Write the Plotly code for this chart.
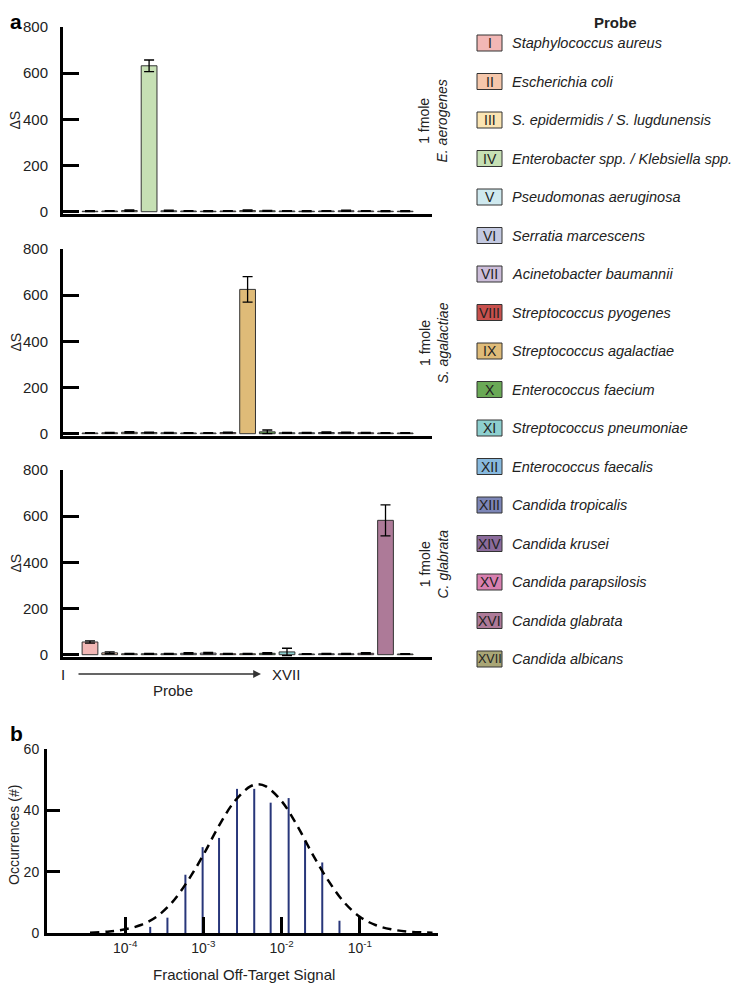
import plotly.graph_objects as go

W, H = 742, 984          # target picture size
OFF = 8                  # page body margin in the browser
FW, FH = W - OFF, H - OFF  # figure size so it fits the window

# ---------------- data ----------------
probes = ['I', 'II', 'III', 'IV', 'V', 'VI', 'VII', 'VIII', 'IX', 'X',
          'XI', 'XII', 'XIII', 'XIV', 'XV', 'XVI', 'XVII']
species = ['Staphylococcus aureus', 'Escherichia coli',
           'S. epidermidis / S. lugdunensis', 'Enterobacter spp. / Klebsiella spp.',
           'Pseudomonas aeruginosa', 'Serratia marcescens', 'Acinetobacter baumannii',
           'Streptococcus pyogenes', 'Streptococcus agalactiae', 'Enterococcus faecium',
           'Streptococcus pneumoniae', 'Enterococcus faecalis', 'Candida tropicalis',
           'Candida krusei', 'Candida parapsilosis', 'Candida glabrata', 'Candida albicans']
colors = ['#f2b7b5', '#f5c7ab', '#fbe5b3', '#c6e0b4', '#cfe9ef', '#c3c9e1', '#ccbdd9',
          '#c8504d', '#dfbb78', '#6aa956', '#8dcfcf', '#87b9de', '#7d86b7', '#8b6b9b',
          '#d880b0', '#ad7a98', '#a9a676']

ea_vals = [2, 3, 5, 632, 4, 3, 2, 3, 5, 4, 3, 2, 3, 4, 3, 2, 2]
ea_err = [2, 2, 3, 25, 3, 2, 2, 2, 3, 2, 2, 2, 2, 3, 2, 2, 2]
sa_vals = [3, 4, 6, 5, 4, 3, 3, 5, 625, 8, 4, 4, 5, 5, 4, 3, 3]
sa_err = [2, 2, 3, 2, 2, 2, 2, 2, 55, 8, 2, 2, 3, 2, 2, 2, 2]
cg_vals = [55, 8, 4, 4, 4, 6, 7, 4, 4, 6, 12, 3, 4, 4, 6, 582, 3]
cg_err = [5, 4, 2, 2, 2, 3, 3, 2, 2, 3, 16, 2, 2, 2, 3, 67, 1]
panel_targets = ['E. aerogenes', 'S. agalactiae', 'C. glabrata']
y_ticks_a = [0, 200, 400, 600, 800]

hist_exp = [-3.68, -3.46, -3.23, -3.01, -2.80, -2.57, -2.35, -2.14, -1.91, -1.70, -1.48, -1.26]
hist_counts = [2, 5, 19, 28, 31, 47, 47, 42.5, 44, 30, 23, 4]
fit_exp = [-4.45, -4.2, -4.0, -3.8, -3.6, -3.4, -3.2, -3.0, -2.8, -2.6, -2.4, -2.3,
           -2.2, -2.0, -1.8, -1.6, -1.4, -1.2, -1.0, -0.8, -0.6, -0.4, -0.2, -0.07]
fit_counts = [0.1, 0.5, 1.2, 2.6, 5.3, 10, 17, 25.5, 35, 43, 47.8, 48.5,
              47.8, 43, 35, 25.5, 17, 10, 5.3, 2.6, 1.2, 0.5, 0.2, 0.1]
y_ticks_b = [0, 20, 40, 60]
x_ticks_b_exp = [-5, -4, -3, -2, -1, 0]
x_ticks_b_text = ['', '10<sup>-4</sup>', '10<sup>-3</sup>', '10<sup>-2</sup>', '10<sup>-1</sup>', '']

# ---------------- layout helpers (page pixel -> paper) ----------------
def fx(p):
    return (p - OFF) / FW

def fy(p):
    return 1 - (p - OFF) / FH

FONT = 'Liberation Sans, Arial, sans-serif'
TXT = '#222222'

def ann(x, y, text, size, angle=0, xanchor='center', yanchor='middle', color=TXT):
    return dict(x=fx(x), y=fy(y), xref='paper', yref='paper', text=text, textangle=angle,
                xanchor=xanchor, yanchor=yanchor, showarrow=False,
                font=dict(family=FONT, size=size, color=color))

fig = go.Figure()
layout = {}
annotations = []
shapes = []

panels = [(ea_vals, ea_err, 27, 214), (sa_vals, sa_err, 249, 436), (cg_vals, cg_err, 470, 657)]
for i, (vals, errs, top, bot) in enumerate(panels):
    n = '' if i == 0 else str(i + 1)
    fig.add_trace(go.Bar(
        x=probes, y=vals, width=0.8,
        marker=dict(color=colors, line=dict(color='#333333', width=1)),
        error_y=dict(type='data', array=errs, color='black', thickness=1.3, width=5),
        xaxis='x' + n, yaxis='y' + n, showlegend=False))
    layout['xaxis' + n] = dict(domain=[fx(63), fx(432)], anchor='y' + n, type='category',
                               categoryorder='array', categoryarray=probes,
                               range=[-1.37, 17.36], showticklabels=False, ticks='',
                               showline=True, linecolor='black', linewidth=2.5,
                               showgrid=False, zeroline=False, automargin=False)
    layout['yaxis' + n] = dict(domain=[fy(bot), fy(top)], anchor='x' + n, range=[-10, 800],
                               tickvals=y_ticks_a, ticks='inside', ticklen=16, tickwidth=3,
                               tickcolor='black', showline=True, linecolor='black', linewidth=3,
                               showgrid=False, zeroline=False, automargin=False,
                               tickfont=dict(family=FONT, size=15, color=TXT),
                               ticklabelstandoff=9)
    yc = (top + bot) / 2
    annotations.append(ann(15, yc, 'ΔS', 14, angle=-90))
    annotations.append(ann(433, yc, '1 fmole<br><i>' + panel_targets[i] + '</i>', 14, angle=-90))

# Probe axis annotation under panel a
annotations += [
    ann(63, 674, 'I', 15),
    ann(286, 674, 'XVII', 15),
    ann(173, 690, 'Probe', 15),
    dict(x=fx(261), y=fy(674), xref='paper', yref='paper', text='', showarrow=True,
         ax=-184, ay=0, arrowhead=2, arrowsize=1.2, arrowwidth=1.3, arrowcolor='#333333'),
]

# Legend (probe key)
annotations.append(ann(615, 22, '<b>Probe</b>', 15))
for i, (p, s, c) in enumerate(zip(probes, species, colors)):
    yc = 43 + i * 38.5
    shapes.append(dict(type='rect', xref='paper', yref='paper', x0=fx(477), x1=fx(502),
                       y0=fy(yc + 8), y1=fy(yc - 8), fillcolor=c,
                       line=dict(color='#333333', width=1)))
    annotations.append(ann(489.5, yc, p, 12.5 if p == 'XVII' else 14))
    annotations.append(ann(510, yc, '<i>' + s + '</i>', 14.5, xanchor='left'))

# ---------------- panel b ----------------
seg_x, seg_y = [], []
for e, c in zip(hist_exp, hist_counts):
    seg_x += [10 ** e, 10 ** e, None]
    seg_y += [0, c, None]
fig.add_trace(go.Scatter(x=seg_x, y=seg_y, mode='lines', line=dict(color='#28367a', width=2),
                         xaxis='x4', yaxis='y4', showlegend=False, cliponaxis=False))
fig.add_trace(go.Scatter(x=[10 ** e for e in fit_exp], y=fit_counts, mode='lines',
                         line=dict(color='black', width=2.5, dash='9px,6px', shape='spline'),
                         xaxis='x4', yaxis='y4', showlegend=False, cliponaxis=False))

layout['xaxis4'] = dict(domain=[fx(47), fx(438)], anchor='y4', type='log', range=[-5, 0],
                        tickvals=[10 ** e for e in x_ticks_b_exp], ticktext=x_ticks_b_text,
                        ticks='inside', ticklen=16, tickwidth=3, tickcolor='black',
                        showline=True, linecolor='black', linewidth=3, showgrid=False,
                        zeroline=False, automargin=False,
                        tickfont=dict(family=FONT, size=14, color=TXT), ticklabelstandoff=0)
layout['yaxis4'] = dict(domain=[fy(933), fy(749)], anchor='x4', range=[0, 60],
                        tickvals=y_ticks_b, ticks='inside', ticklen=13, tickwidth=3,
                        tickcolor='black', showline=True, linecolor='black', linewidth=3,
                        showgrid=False, zeroline=False, automargin=False,
                        tickfont=dict(family=FONT, size=14, color=TXT), ticklabelstandoff=2)
annotations.append(ann(244, 974, 'Fractional Off-Target Signal', 15))
annotations.append(ann(14, 835, 'Occurrences (#)', 14, angle=-90))

# panel letters
annotations.append(ann(OFF, OFF, '<b>a</b>', 21, xanchor='left', yanchor='top', color='black'))
annotations.append(ann(OFF, 733, '<b>b</b>', 21, xanchor='left', color='black'))

fig.update_layout(width=FW, height=FH, margin=dict(l=0, r=0, t=0, b=0),
                  plot_bgcolor='white', paper_bgcolor='white', bargap=0.2,
                  annotations=annotations, shapes=shapes, **layout)
fig.write_html('out.html')
